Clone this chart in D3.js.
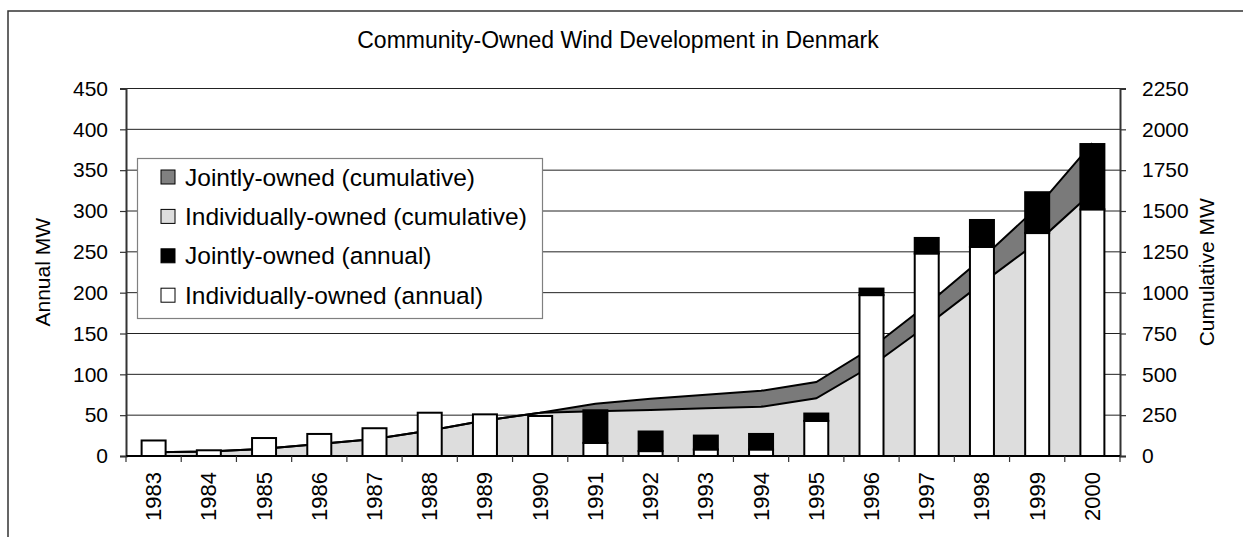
<!DOCTYPE html>
<html>
<head>
<meta charset="utf-8">
<script src="https://cdn.jsdelivr.net/npm/d3@7"></script>
<style>
  html, body { margin: 0; padding: 0; background: #fff; }
  svg { display: block; }
  text { font-family: "Liberation Sans", Arial, sans-serif; fill: #000; }
</style>
</head>
<body>
<svg id="chart" width="1243" height="537"></svg>
<script>
// ---- data ----
const years = ["1983","1984","1985","1986","1987","1988","1989","1990","1991","1992","1993","1994","1995","1996","1997","1998","1999","2000"];
const indivAnnual = [19, 7, 22, 27, 34, 53, 51, 49, 16, 6, 8, 8, 43, 197, 248, 256, 273, 302];
const jointAnnual = [0, 0, 0, 0, 0, 0, 0, 0, 40, 24, 17, 19, 9, 8, 19, 33, 50, 80];
const indivCumulative = [23, 28, 44, 73, 104, 156, 218, 265, 274, 282, 292, 301, 353, 551, 797, 1057, 1308, 1615];
const jointCumulative = [0, 0, 0, 0, 0, 0, 0, 0, 46, 68, 83, 98, 100, 110, 127, 152, 214, 300];
const leftTicks = [0, 50, 100, 150, 200, 250, 300, 350, 400, 450];
const rightTicks = [0, 250, 500, 750, 1000, 1250, 1500, 1750, 2000, 2250];
const legendLabels = ["Jointly-owned (cumulative)", "Individually-owned (cumulative)", "Jointly-owned (annual)", "Individually-owned (annual)"];
const legendColors = ["#808080", "#DDDDDD", "#000000", "#FFFFFF"];
const titleText = "Community-Owned Wind Development in Denmark";

(function () {
const svg = d3.select("#chart");
const pL = 126, pR = 1120, pT = 88.5, pB = 456;

const x = d3.scaleBand().domain(years).range([pL, pR]).padding(0);
const yL = d3.scaleLinear().domain([0, 450]).range([pB, pT]);
const yR = d3.scaleLinear().domain([0, 2250]).range([pB, pT]);
const bw = x.bandwidth();
const barW = 24;
const cx = d => x(d) + bw / 2;

const rows = years.map((y, i) => ({
  year: y, ia: indivAnnual[i], ja: jointAnnual[i],
  ic: indivCumulative[i], jc: jointCumulative[i]
}));

// outer frame
svg.append("rect").attr("x", 8).attr("y", 11).attr("width", 1400).attr("height", 800)
  .attr("fill", "none").attr("stroke", "#333").attr("stroke-width", 1.5);

// title
svg.append("text").attr("x", 618).attr("y", 48).attr("text-anchor", "middle")
  .style("font-size", "23px").text(titleText);

// gridlines
svg.append("g").selectAll("line").data(leftTicks.filter(t => t > 0)).join("line")
  .attr("x1", pL).attr("x2", pR)
  .attr("y1", d => yL(d)).attr("y2", d => yL(d))
  .attr("stroke", "#222").attr("stroke-width", 1);

// cumulative areas
const areaInd = d3.area().x(d => cx(d.year)).y0(yR(0)).y1(d => yR(d.ic));
const areaJoint = d3.area().x(d => cx(d.year)).y0(d => yR(d.ic)).y1(d => yR(d.ic + d.jc));
svg.append("path").datum(rows).attr("d", areaJoint).attr("fill", "#7A7A7A");
svg.append("path").datum(rows).attr("d", areaInd).attr("fill", "#DDDDDD");
const lineInd = d3.line().x(d => cx(d.year)).y(d => yR(d.ic));
const lineTop = d3.line().x(d => cx(d.year)).y(d => yR(d.ic + d.jc));
svg.append("path").datum(rows).attr("d", lineTop).attr("fill", "none").attr("stroke", "#000").attr("stroke-width", 2);
svg.append("path").datum(rows).attr("d", lineInd).attr("fill", "none").attr("stroke", "#000").attr("stroke-width", 2);

// annual bars
const bars = svg.append("g");
bars.selectAll("rect.ind").data(rows).join("rect").attr("class", "ind")
  .attr("x", d => cx(d.year) - barW / 2).attr("width", barW)
  .attr("y", d => yL(d.ia)).attr("height", d => yL(0) - yL(d.ia))
  .attr("fill", "#fff").attr("stroke", "#000").attr("stroke-width", 2);
bars.selectAll("rect.joint").data(rows.filter(d => d.ja > 0)).join("rect").attr("class", "joint")
  .attr("x", d => cx(d.year) - barW / 2).attr("width", barW)
  .attr("y", d => yL(d.ia + d.ja)).attr("height", d => yL(d.ia) - yL(d.ia + d.ja))
  .attr("fill", "#000").attr("stroke", "#000").attr("stroke-width", 2);

// axes
const axL = svg.append("g").attr("transform", `translate(${pL},0)`)
  .call(d3.axisLeft(yL).tickValues(leftTicks).tickFormat(d3.format("d")).tickSize(6).tickPadding(12));
const axR = svg.append("g").attr("transform", `translate(${pR},0)`)
  .call(d3.axisRight(yR).tickValues(rightTicks).tickFormat(d3.format("d")).tickSize(6).tickPadding(16));
[axL, axR].forEach(a => {
  a.select(".domain").attr("stroke", "#333").attr("stroke-width", 2);
  a.selectAll(".tick line").attr("stroke", "#333").attr("stroke-width", 1.2);
  a.selectAll(".tick text").style("font-size", "21px")
    .style("font-family", "'Liberation Sans', Arial, sans-serif").attr("fill", "#000");
});

// bottom axis: baseline, boundary ticks, rotated labels
svg.append("line").attr("x1", pL).attr("x2", pR).attr("y1", pB).attr("y2", pB)
  .attr("stroke", "#000").attr("stroke-width", 2);
svg.append("g").selectAll("line").data(years.concat(["end"])).join("line")
  .attr("x1", d => d === "end" ? pR : x(d)).attr("x2", d => d === "end" ? pR : x(d))
  .attr("y1", pB).attr("y2", pB + 6)
  .attr("stroke", "#333").attr("stroke-width", 1.2);
svg.append("g").selectAll("text").data(years).join("text")
  .attr("transform", d => `translate(${cx(d)},${pB + 16}) rotate(-90)`)
  .attr("text-anchor", "end").attr("dominant-baseline", "central")
  .style("font-size", "22px").text(d => d);

// axis titles
svg.append("text").attr("transform", `translate(50,${(pT + pB) / 2}) rotate(-90)`)
  .attr("text-anchor", "middle").style("font-size", "21px").text("Annual MW");
svg.append("text").attr("transform", `translate(1214,${(pT + pB) / 2}) rotate(-90)`)
  .attr("text-anchor", "middle").style("font-size", "21px").text("Cumulative MW");

// legend
const lg = svg.append("g");
lg.append("rect").attr("x", 137.5).attr("y", 158.5).attr("width", 405).attr("height", 160)
  .attr("fill", "#fff").attr("stroke", "#808080").attr("stroke-width", 1.2);
const items = lg.selectAll("g.item").data(legendLabels).join("g").attr("class", "item")
  .attr("transform", (d, i) => `translate(0,${177 + i * 39.4})`);
items.append("rect").attr("x", 161).attr("y", -7).attr("width", 14).attr("height", 14)
  .attr("fill", (d, i) => legendColors[i]).attr("stroke", "#000").attr("stroke-width", 1);
items.append("text").attr("x", 185).attr("y", 0).attr("dominant-baseline", "central")
  .style("font-size", "24.5px").text(d => d);
})();
</script>
</body>
</html>
